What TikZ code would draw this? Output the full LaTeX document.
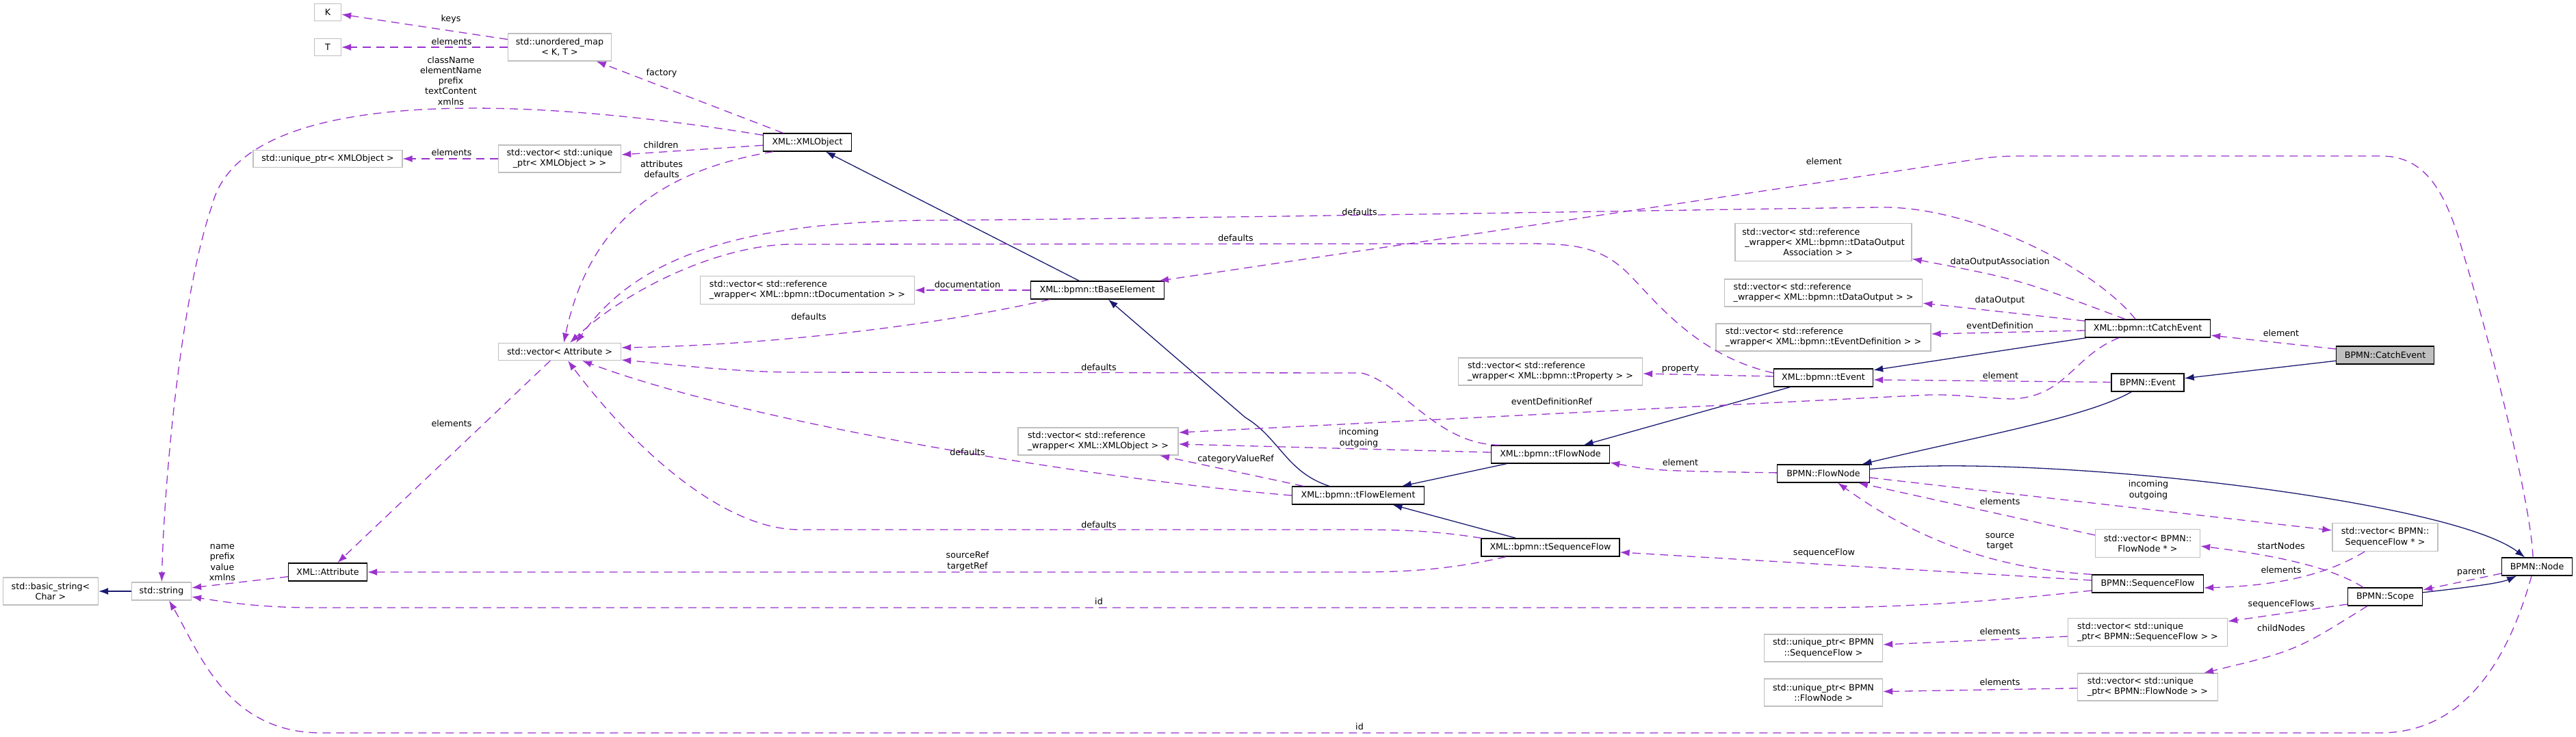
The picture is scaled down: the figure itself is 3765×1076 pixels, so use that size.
\documentclass[tikz,border=0pt]{standalone}
\usepackage{fontspec}
\setmainfont{DejaVu Sans}
\usetikzlibrary{arrows.meta}
\definecolor{edgepurple}{HTML}{9A32CD}
\definecolor{edgenavy}{HTML}{191970}
\definecolor{boxgray}{HTML}{BFBFBF}

\begin{document}
\begin{tikzpicture}[x=1pt, y=-1pt,
  font=\fontsize{12.7}{15.2}\selectfont,
  cls/.style={draw=black, fill=white, line width=1.3pt, inner sep=2pt, align=center, minimum height=26pt},
  ext/.style={draw=boxgray, fill=white, line width=1.3pt, inner sep=2pt, align=center, minimum height=25pt},
  root/.style={cls, fill=boxgray},
  lbl/.style={inner sep=0pt, align=center},
  inh/.style={draw=edgenavy, line width=1.3pt, -{Latex[length=14pt,width=10pt]}},
  usage/.style={draw=edgepurple, line width=1.3pt, dash pattern=on 12pt off 8pt, -{Latex[length=14pt,width=10pt]}}]
  \useasboundingbox (0,0) rectangle (3765,1076);

  % XML side
  \node[ext, minimum width=39pt] (K) at (479,18) {K};
  \node[ext, minimum width=39pt] (T) at (479,69) {T};
  \node[ext, minimum width=151pt, minimum height=40pt] (umap) at (818,69) {std::unordered\_map\\< K, T >};
  \node[ext, minimum width=218pt] (uptrxml) at (479,232) {std::unique\_ptr< XMLObject >};
  \node[ext, minimum width=179pt, minimum height=40pt] (vecuptr) at (818,232) {std::vector< std::unique\\\_ptr< XMLObject > >};
  \node[cls, minimum width=129pt] (xmlobj) at (1180,208) {XML::XMLObject};
  \node[ext, minimum width=179pt] (vecattr) at (818,514) {std::vector< Attribute >};
  \node[cls, minimum width=115pt] (attr) at (479,836) {XML::Attribute};
  \node[ext, minimum width=87pt, minimum height=26pt] (str) at (236,864) {std::string};
  \node[ext, minimum width=139pt, minimum height=40pt] (bstr) at (74,864) {std::basic\_string<\\Char >};
  \node[ext, minimum width=313pt, minimum height=41pt, align=left] (vecdoc) at (1180,424) {std::vector< std::reference\\\_wrapper< XML::bpmn::tDocumentation > >};
  \node[cls, minimum width=195pt] (baseel) at (1604,424) {XML::bpmn::tBaseElement};
  \node[ext, minimum width=234pt, minimum height=40pt, align=left] (vecrefxml) at (1605,645) {std::vector< std::reference\\\_wrapper< XML::XMLObject > >};
  \node[cls, minimum width=193pt] (flowel) at (1985,724) {XML::bpmn::tFlowElement};
  \node[cls, minimum width=173pt] (flownode) at (2266,664) {XML::bpmn::tFlowNode};
  \node[cls, minimum width=202pt] (seqflow) at (2266,800) {XML::bpmn::tSequenceFlow};
  \node[ext, minimum width=269pt, minimum height=40pt, align=left] (vecprop) at (2266,543) {std::vector< std::reference\\\_wrapper< XML::bpmn::tProperty > >};
  \node[cls, minimum width=145pt] (tevent) at (2665,552) {XML::bpmn::tEvent};
  \node[ext, minimum width=258pt, minimum height=55pt, align=left] (vecdoa) at (2665,354) {std::vector< std::reference\\\hspace*{4pt}\_wrapper< XML::bpmn::tDataOutput\\\hspace*{60pt}Association > >};
  \node[ext, minimum width=289pt, minimum height=40pt, align=left] (vecdo) at (2665,428) {std::vector< std::reference\\\_wrapper< XML::bpmn::tDataOutput > >};
  \node[ext, minimum width=314pt, minimum height=40pt, align=left] (vecevdef) at (2665,493) {std::vector< std::reference\\\_wrapper< XML::bpmn::tEventDefinition > >};
  \node[cls, minimum width=183pt] (catchev) at (3139,480) {XML::bpmn::tCatchEvent};

  % BPMN side
  \node[cls, minimum width=135pt] (bflownode) at (2665,692) {BPMN::FlowNode};
  \node[ext, minimum width=173pt, minimum height=40pt] (uptrsf) at (2665,947) {std::unique\_ptr< BPMN\\::SequenceFlow >};
  \node[ext, minimum width=173pt, minimum height=40pt] (uptrfn) at (2665,1012) {std::unique\_ptr< BPMN\\::FlowNode >};
  \node[root, minimum width=143pt] (bcatch) at (3486,519) {BPMN::CatchEvent};
  \node[cls, minimum width=106pt] (bevent) at (3139,559) {BPMN::Event};
  \node[ext, minimum width=153pt, minimum height=41pt] (vecfnp) at (3139,794) {std::vector< BPMN::\\FlowNode * >};
  \node[ext, minimum width=154pt, minimum height=41pt] (vecsfp) at (3486,785) {std::vector< BPMN::\\SequenceFlow * >};
  \node[cls, minimum width=163pt] (bseqflow) at (3139,853) {BPMN::SequenceFlow};
  \node[cls, minimum width=103pt] (bnode) at (3708,828) {BPMN::Node};
  \node[cls, minimum width=109pt] (bscope) at (3486,872) {BPMN::Scope};
  \node[ext, minimum width=233pt, minimum height=41pt, align=left] (vecupsf) at (3139,924) {std::vector< std::unique\\\_ptr< BPMN::SequenceFlow > >};
  \node[ext, minimum width=205pt, minimum height=40pt, align=left] (vecupfn) at (3139,1004) {std::vector< std::unique\\\_ptr< BPMN::FlowNode > >};

  % inheritance
  \draw[inh] (str) -- (bstr);
  \draw[inh] (baseel) -- (xmlobj);
  \draw[inh] (flowel) .. controls (1880,690) and (1870,640) .. (1820,610) -- (baseel);
  \draw[inh] (flownode) -- (flowel);
  \draw[inh] (seqflow) -- (flowel);
  \draw[inh] (tevent) -- (flownode);
  \draw[inh] (catchev) -- (tevent);
  \draw[inh] (bcatch) -- (bevent);
  \draw[inh] (bevent) .. controls (3050,610) and (2880,640) .. (bflownode);
  \draw[inh] (bflownode) .. controls (2980,662) and (3580,730) .. (bnode);
  \draw[inh] (bscope) .. controls (3610,858) and (3655,852) .. ([xshift=-30pt]bnode.south);

  % members
  \draw[usage] (umap) -- (K);
  \draw[usage] (umap) -- (T);
  \draw[usage] (xmlobj) -- (umap);
  \draw[usage] (xmlobj) .. controls (700,130) and (350,140) .. (310,300) .. controls (265,430) and (240,700) .. (str);
  \draw[usage] (xmlobj) -- (vecuptr);
  \draw[usage] (vecuptr) -- (uptrxml);
  \draw[usage] ([xshift=-50pt]xmlobj.south) .. controls (960,250) and (860,330) .. ([xshift=6pt]vecattr.north);
  \draw[usage] (vecattr) -- (attr);
  \draw[usage] (attr) -- (str);
  \draw[usage] (baseel) -- (vecdoc);
  \draw[usage] ([xshift=-70pt]baseel.south) .. controls (1350,480) and (1100,505) .. ([yshift=6pt]vecattr.east);
  \draw[usage] ([xshift=-18pt]catchev.north) .. controls (3060,390) and (2880,300) .. (2746,303)
    .. controls (2500,306) and (1700,320) .. (1350,322) .. controls (1050,325) and (920,390) .. ([xshift=24pt]vecattr.north);
  \draw[usage] ([yshift=7pt]tevent.west) .. controls (2480,520) and (2420,440) .. (2380,400)
    .. controls (2340,360) and (2300,356) .. (2230,356) -- (1152,357) .. controls (1050,360) and (920,420) .. ([xshift=15pt]vecattr.north);
  \draw[usage] ([xshift=-74pt]flownode.north) .. controls (2100,650) and (2050,560) .. (1990,545) -- (1150,544)
    .. controls (1050,542) and (960,530) .. ([yshift=-12pt]vecattr.east);
  \draw[usage] (flowel.west) .. controls (1600,700) and (1100,620) .. ([xshift=33pt]vecattr.south);
  \draw[usage] ([xshift=-101pt]seqflow.north) .. controls (2100,776) and (2050,774) .. (1980,774) -- (1170,774)
    .. controls (1060,775) and (930,660) .. ([xshift=12pt]vecattr.south);
  \draw[usage] ([xshift=-6pt]bnode.north) .. controls (3700,740) and (3640,500) .. (3600,370)
    .. controls (3575,280) and (3545,228) .. (3480,228) -- (2950,228) .. controls (2920,228) and (2900,231) .. (2880,234)
    -- ([xshift=90pt]baseel.north);
  \draw[usage] ([xshift=-33pt]catchev.north) .. controls (2950,408) .. ([yshift=4pt]vecdoa.south east);
  \draw[usage] ([yshift=11pt]catchev.west) -- ([yshift=-15pt]vecdo.east);
  \draw[usage] ([yshift=-3pt]catchev.west) -- ([yshift=5pt]vecevdef.east);
  \draw[usage] ([yshift=9pt]bcatch.west) -- ([yshift=-10pt]catchev.east);
  \draw[usage] ([yshift=2pt]tevent.west) -- ([yshift=-3pt]vecprop.east);
  \draw[usage] (bevent) -- ([yshift=-3pt]tevent.east);
  \draw[usage] ([xshift=-42pt]catchev.south) .. controls (3030,520) and (3020,580) .. (2940,583)
    .. controls (2900,582) and (2860,576) .. (2820,577) -- ([yshift=13pt]vecrefxml.east);
  \draw[usage] ([yshift=3pt]flownode.west) -- ([yshift=-4pt]vecrefxml.east);
  \draw[usage] ([xshift=-80pt]flowel.north) -- ([xshift=90pt]vecrefxml.south);
  \draw[usage] (bflownode) .. controls (2420,688) .. ([yshift=-12pt]flownode.east);
  \draw[usage] ([xshift=-65pt]seqflow.south) .. controls (2120,832) and (2060,836) .. (1980,836) -- (attr);
  \draw[usage] ([yshift=5pt]bseqflow.west) -- ([yshift=-7pt]seqflow.east);
  \draw[usage] ([yshift=-10pt]bseqflow.west) .. controls (2950,875) and (2800,888) .. (2650,888) -- (460,888)
    .. controls (380,888) and (330,880) .. ([yshift=-8pt]str.east);
  \draw[usage] ([xshift=-8pt]bnode.south) .. controls (3670,950) and (3610,1070) .. (3480,1071) -- (470,1071)
    .. controls (330,1071) and (290,950) .. ([xshift=11pt]str.south);
  \draw[usage] ([xshift=-82pt]bseqflow.north) .. controls (2900,830) and (2790,780) .. ([xshift=21pt]bflownode.south);
  \draw[usage] ([yshift=12pt]vecfnp.west) -- ([xshift=51pt]bflownode.south);
  \draw[usage] ([yshift=-6pt]bflownode.east) -- ([yshift=10pt]vecsfp.west);
  \draw[usage] ([xshift=-30pt]vecsfp.south) .. controls (3400,840) and (3330,856) .. ([yshift=-6pt]bseqflow.east);
  \draw[usage] ([xshift=-32pt]bscope.north) .. controls (3410,830) and (3330,812) .. ([yshift=-4pt]vecfnp.east);
  \draw[usage] ([yshift=-10pt]bnode.west) -- ([yshift=10pt]bscope.east);
  \draw[usage] ([yshift=-11pt]bscope.west) -- ([yshift=16pt]vecupsf.east);
  \draw[usage] ([xshift=-26pt]bscope.south) .. controls (3355,951) .. ([xshift=82pt]vecupfn.north);
  \draw[usage] ([yshift=-6pt]vecupsf.west) -- ([yshift=5pt]uptrsf.east);
  \draw[usage] (vecupfn) -- (uptrfn);

  % edge labels
  \node[lbl] (lkeys) at (659,28) {keys};
  \node[lbl] (lelemT) at (660,61) {elements};
  \node[lbl] (lnames) at (659,118) {className\\elementName\\prefix\\textContent\\xmlns};
  \node[lbl] (lfactory) at (967,107) {factory};
  \node[lbl] (lchildren) at (966,212) {children};
  \node[lbl] (lattrs) at (967,247) {attributes\\defaults};
  \node[lbl] (lelemuptr) at (660,223) {elements};
  \node[lbl] (lelemattr) at (660,619) {elements};
  \node[lbl] (lattrstr) at (325,822) {name\\prefix\\value\\xmlns};
  \node[lbl] (ldoc) at (1414,416) {documentation};
  \node[lbl] (ldefbase) at (1182,463) {defaults};
  \node[lbl] (ldefevent) at (1806,348) {defaults};
  \node[lbl] (ldefcatch) at (1987,310) {defaults};
  \node[lbl] (lelemnode) at (2666,236) {element};
  \node[lbl] (ldefflownode) at (1606,537) {defaults};
  \node[lbl] (ldefflowel) at (1414,661) {defaults};
  \node[lbl] (lcatref) at (1806,671) {categoryValueRef};
  \node[lbl] (ldefseq) at (1606,767) {defaults};
  \node[lbl] (lsrctgt) at (1414,820) {sourceRef\\targetRef};
  \node[lbl] (lidseq) at (1606,879) {id};
  \node[lbl] (lidnode) at (1987,1062) {id};
  \node[lbl] (linout) at (1986,640) {incoming\\outgoing};
  \node[lbl] (levdefref) at (2268,587) {eventDefinitionRef};
  \node[lbl] (lprop) at (2456,539) {property};
  \node[lbl] (lelemflow) at (2456,676) {element};
  \node[lbl] (lseqflow) at (2666,808) {sequenceFlow};
  \node[lbl] (ldoa) at (2923,383) {dataOutputAssociation};
  \node[lbl] (ldo) at (2923,439) {dataOutput};
  \node[lbl] (levdef) at (2923,476) {eventDefinition};
  \node[lbl] (lelemevent) at (2924,549) {element};
  \node[lbl] (lelemcatch) at (3334,487) {element};
  \node[lbl] (linoutb) at (3140,716) {incoming\\outgoing};
  \node[lbl] (lelemfnp) at (2923,733) {elements};
  \node[lbl] (lsrctgtb) at (2923,792) {source\\target};
  \node[lbl] (lstart) at (3334,798) {startNodes};
  \node[lbl] (lelemsfp) at (3334,833) {elements};
  \node[lbl] (lparent) at (3612,836) {parent};
  \node[lbl] (lseqflows) at (3334,883) {sequenceFlows};
  \node[lbl] (lchild) at (3334,918) {childNodes};
  \node[lbl] (lelemupsf) at (2923,923) {elements};
  \node[lbl] (lelemupfn) at (2923,997) {elements};
\end{tikzpicture}
\end{document}
